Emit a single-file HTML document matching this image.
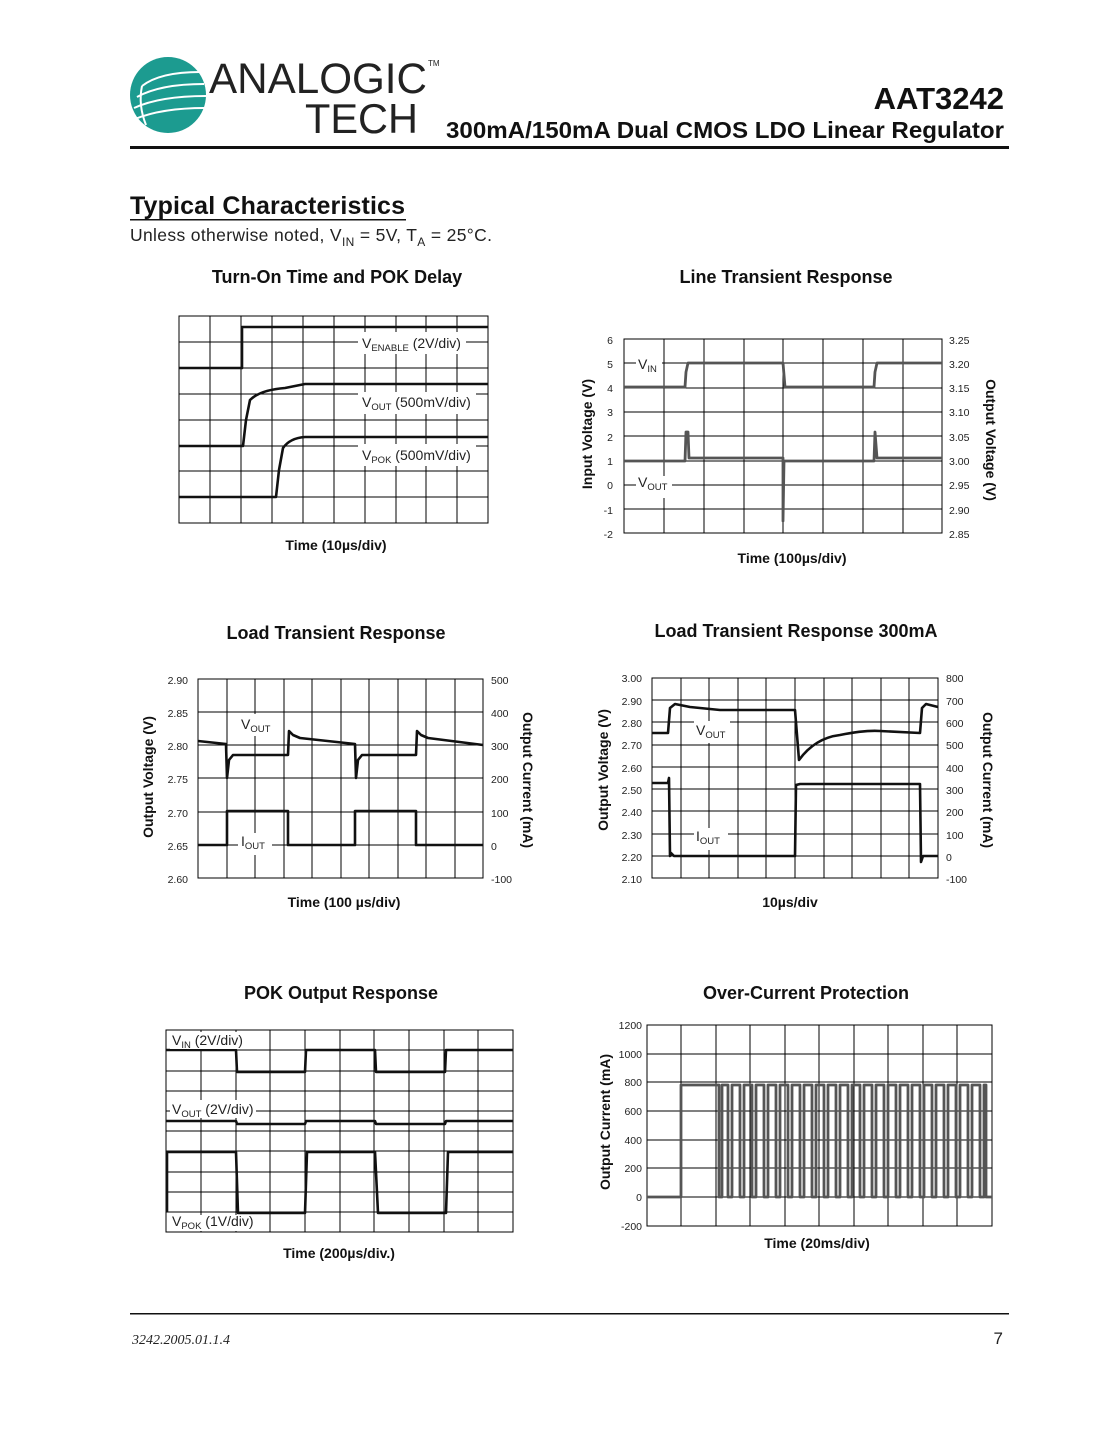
<!DOCTYPE html>
<html><head><meta charset="utf-8"><style>
html,body{margin:0;padding:0;background:#fff;}
svg{display:block;font-family:"Liberation Sans",Arial,sans-serif;}
.g{stroke:#000;stroke-width:1;fill:none;}
.t{fill:none;stroke:#111;stroke-width:2.6;stroke-linejoin:round;}
.tg{fill:none;stroke:#555;stroke-width:2.8;stroke-linejoin:round;}
.tk{font-size:10.5px;fill:#222;}
.ti{font-size:18px;font-weight:bold;fill:#111;}
.ax{font-size:14px;font-weight:bold;fill:#111;}
.lb{font-size:14px;fill:#222;}
.sb{font-size:9.5px;}
</style></head><body>
<svg width="1105" height="1430" viewBox="0 0 1105 1430" xmlns="http://www.w3.org/2000/svg">
<!-- logo -->
<circle cx="168" cy="95" r="38" fill="#1c9b90"/>
<g stroke="#fff" stroke-width="2" fill="none">
<path d="M142 86 Q160 72 200 72"/><path d="M137 97 Q160 84 204 84"/><path d="M134 108 Q160 96 206 96"/><path d="M135 119 Q162 108 205 108"/>
<path d="M142 86 Q138 105 146 125"/>
</g>
<text x="209" y="93" font-size="43" fill="#222" textLength="218" lengthAdjust="spacingAndGlyphs">ANALOGIC</text>
<text x="428" y="66" font-size="8" fill="#222">TM</text>
<text x="305" y="133" font-size="42" fill="#222" textLength="113" lengthAdjust="spacingAndGlyphs">TECH</text>
<text x="1004" y="109" font-size="31" font-weight="bold" fill="#111" text-anchor="end">AAT3242</text>
<text x="446" y="138" font-size="23" font-weight="bold" fill="#111" textLength="558" lengthAdjust="spacingAndGlyphs">300mA/150mA Dual CMOS LDO Linear Regulator</text>
<rect x="130" y="146" width="879" height="3" fill="#111"/>
<text x="130" y="214" font-size="25" font-weight="bold" fill="#111" textLength="275">Typical Characteristics</text>
<rect x="130" y="219" width="276" height="1.5" fill="#111"/>
<text x="130" y="241" font-size="17.5" fill="#222" textLength="362">Unless otherwise noted, V<tspan font-size="12" dy="5">IN</tspan><tspan dy="-5"> = 5V, T</tspan><tspan font-size="12" dy="5">A</tspan><tspan dy="-5"> = 25°C.</tspan></text>

<!-- Chart 1 -->
<text class="ti" x="337" y="283" text-anchor="middle">Turn-On Time and POK Delay</text>
<g class="g">
<rect x="179" y="316" width="309" height="207"/>
<path d="M210 316V523M241 316V523M272 316V523M303 316V523M334 316V523M365 316V523M396 316V523M426 316V523M457 316V523"/>
<path d="M179 342H488M179 368H488M179 394H488M179 420H488M179 446H488M179 471H488M179 497H488"/>
</g>
<path class="t" d="M179 368H242V327H488"/>
<path class="t" d="M179 446H243L246 420L250 400Q260 390 285 388Q300 385 305 384H488"/>
<path class="t" d="M179 497H276L279 470L283 448Q290 438 305 437H488"/>
<rect x="358" y="332" width="108" height="22" fill="#fff"/>
<text class="lb" x="362" y="348">V<tspan class="sb" dy="3">ENABLE</tspan><tspan dy="-3"> (2V/div)</tspan></text>
<rect x="358" y="392" width="118" height="22" fill="#fff"/>
<text class="lb" x="362" y="407">V<tspan class="sb" dy="3">OUT</tspan><tspan dy="-3"> (500mV/div)</tspan></text>
<rect x="358" y="444" width="118" height="22" fill="#fff"/>
<text class="lb" x="362" y="460">V<tspan class="sb" dy="3">POK</tspan><tspan dy="-3"> (500mV/div)</tspan></text>
<text class="ax" x="336" y="550" text-anchor="middle">Time (10µs/div)</text>

<!-- Chart 2 -->
<text class="ti" x="786" y="283" text-anchor="middle">Line Transient Response</text>
<g class="g">
<rect x="624" y="339" width="318" height="194"/>
<path d="M664 339V533M704 339V533M744 339V533M783 339V533M823 339V533M863 339V533M903 339V533"/>
<path d="M624 363H942M624 388H942M624 412H942M624 436H942M624 461H942M624 485H942M624 509H942"/>
</g>
<g class="tk" text-anchor="end">
<text x="613" y="344">6</text><text x="613" y="368">5</text><text x="613" y="392">4</text><text x="613" y="416">3</text><text x="613" y="441">2</text><text x="613" y="465">1</text><text x="613" y="489">0</text><text x="613" y="514">-1</text><text x="613" y="538">-2</text>
</g>
<g class="tk">
<text x="949" y="344">3.25</text><text x="949" y="368">3.20</text><text x="949" y="392">3.15</text><text x="949" y="416">3.10</text><text x="949" y="441">3.05</text><text x="949" y="465">3.00</text><text x="949" y="489">2.95</text><text x="949" y="514">2.90</text><text x="949" y="538">2.85</text>
</g>
<text class="ax" transform="translate(592 434) rotate(-90)" text-anchor="middle">Input Voltage (V)</text>
<text class="ax" transform="translate(986 440) rotate(90)" text-anchor="middle">Output Voltage (V)</text>
<path class="tg" d="M624 387H685L686 372L688 363H783L785 387H874L875 372L877 363H942"/>
<path class="tg" d="M624 461H685L686 432H688L689 458H783L783 521L784 461H874L875 432L877 458H942"/>
<rect x="636" y="354" width="26" height="22" fill="#fff"/>
<text class="lb" x="638" y="369">V<tspan class="sb" dy="3">IN</tspan></text>
<rect x="636" y="476" width="36" height="22" fill="#fff"/>
<text class="lb" x="638" y="487">V<tspan class="sb" dy="3">OUT</tspan></text>
<text class="ax" x="792" y="563" text-anchor="middle">Time (100µs/div)</text>

<!-- Chart 3 -->
<text class="ti" x="336" y="639" text-anchor="middle">Load Transient Response</text>
<g class="g">
<rect x="198" y="679" width="285" height="199"/>
<path d="M227 679V878M255 679V878M284 679V878M312 679V878M341 679V878M369 679V878M398 679V878M426 679V878M455 679V878"/>
<path d="M198 712H483M198 745H483M198 778H483M198 812H483M198 845H483"/>
</g>
<g class="tk" text-anchor="end">
<text x="188" y="684">2.90</text><text x="188" y="717">2.85</text><text x="188" y="750">2.80</text><text x="188" y="783">2.75</text><text x="188" y="817">2.70</text><text x="188" y="850">2.65</text><text x="188" y="883">2.60</text>
</g>
<g class="tk">
<text x="491" y="684">500</text><text x="491" y="717">400</text><text x="491" y="750">300</text><text x="491" y="783">200</text><text x="491" y="817">100</text><text x="491" y="850">0</text><text x="491" y="883">-100</text>
</g>
<text class="ax" transform="translate(153 777) rotate(-90)" text-anchor="middle">Output Voltage (V)</text>
<text class="ax" transform="translate(523 780) rotate(90)" text-anchor="middle">Output Current (mA)</text>
<path class="t" d="M198 741L226 744L227 778L229 760L233 755H288L289 731L293 735L300 738L355 744L356 778L358 760L362 755H416L417 731L421 735L428 738L483 745"/>
<path class="t" d="M198 845H227V811H288V845H355V811H416V845H483"/>
<rect x="238" y="714" width="36" height="22" fill="#fff"/>
<text class="lb" x="241" y="729">V<tspan class="sb" dy="3">OUT</tspan></text>
<rect x="238" y="833" width="34" height="22" fill="#fff"/>
<text class="lb" x="241" y="846">I<tspan class="sb" dy="3">OUT</tspan></text>
<text class="ax" x="344" y="907" text-anchor="middle">Time (100 µs/div)</text>

<!-- Chart 4 -->
<text class="ti" x="796" y="637" text-anchor="middle">Load Transient Response 300mA</text>
<g class="g">
<rect x="652" y="678" width="286" height="200"/>
<path d="M681 678V878M709 678V878M738 678V878M766 678V878M795 678V878M824 678V878M852 678V878M881 678V878M909 678V878"/>
<path d="M652 700H938M652 722H938M652 745H938M652 767H938M652 789H938M652 811H938M652 834H938M652 856H938"/>
</g>
<g class="tk" text-anchor="end">
<text x="642" y="682">3.00</text><text x="642" y="705">2.90</text><text x="642" y="727">2.80</text><text x="642" y="749">2.70</text><text x="642" y="772">2.60</text><text x="642" y="794">2.50</text><text x="642" y="816">2.40</text><text x="642" y="839">2.30</text><text x="642" y="861">2.20</text><text x="642" y="883">2.10</text>
</g>
<g class="tk">
<text x="946" y="682">800</text><text x="946" y="705">700</text><text x="946" y="727">600</text><text x="946" y="749">500</text><text x="946" y="772">400</text><text x="946" y="794">300</text><text x="946" y="816">200</text><text x="946" y="839">100</text><text x="946" y="861">0</text><text x="946" y="883">-100</text>
</g>
<text class="ax" transform="translate(608 770) rotate(-90)" text-anchor="middle">Output Voltage (V)</text>
<text class="ax" transform="translate(983 780) rotate(90)" text-anchor="middle">Output Current (mA)</text>
<path class="t" d="M652 733H668L670 708L675 704L690 707L720 710H795L797 735L799 760Q815 738 840 735Q865 730 880 731L920 733L922 708L926 704L938 707"/>
<path class="t" d="M652 783H668L669 778L670 856L671 853L674 856H795L796 785L800 784H920L921 862L923 856H938"/>
<rect x="694" y="721" width="36" height="22" fill="#fff"/>
<text class="lb" x="696" y="735">V<tspan class="sb" dy="3">OUT</tspan></text>
<rect x="694" y="828" width="34" height="22" fill="#fff"/>
<text class="lb" x="696" y="841">I<tspan class="sb" dy="3">OUT</tspan></text>
<text class="ax" x="790" y="907" text-anchor="middle">10µs/div</text>

<!-- Chart 5 -->
<text class="ti" x="341" y="999" text-anchor="middle">POK Output Response</text>
<g class="g">
<rect x="166" y="1030" width="347" height="202"/>
<path d="M201 1030V1232M236 1030V1232M270 1030V1232M305 1030V1232M340 1030V1232M374 1030V1232M409 1030V1232M444 1030V1232M478 1030V1232"/>
<path d="M166 1050H513M166 1071H513M166 1091H513M166 1111H513M166 1131H513M166 1151H513M166 1172H513M166 1192H513M166 1212H513"/>
</g>
<path class="t" d="M166 1050H236L237 1072H305L306 1050H375L376 1072H445L446 1050H513"/>
<path class="t" d="M166 1121H236L237 1124H305L306 1121H375L376 1124H445L446 1121H513"/>
<path class="t" d="M167 1212V1152H236L238 1213H305L307 1152H375L378 1213H446L448 1152H513"/>
<rect x="170" y="1032" width="78" height="17" fill="#fff"/>
<text class="lb" x="172" y="1045">V<tspan class="sb" dy="3">IN</tspan><tspan dy="-3"> (2V/div)</tspan></text>
<rect x="170" y="1100" width="86" height="18" fill="#fff"/>
<text class="lb" x="172" y="1114">V<tspan class="sb" dy="3">OUT</tspan><tspan dy="-3"> (2V/div)</tspan></text>
<rect x="170" y="1215" width="88" height="16" fill="#fff"/>
<text class="lb" x="172" y="1226">V<tspan class="sb" dy="3">POK</tspan><tspan dy="-3"> (1V/div)</tspan></text>
<text class="ax" x="339" y="1258" text-anchor="middle">Time (200µs/div.)</text>

<!-- Chart 6 -->
<text class="ti" x="806" y="999" text-anchor="middle">Over-Current Protection</text>
<g class="g">
<rect x="647" y="1025" width="345" height="201"/>
<path d="M681 1025V1226M716 1025V1226M750 1025V1226M785 1025V1226M819 1025V1226M854 1025V1226M888 1025V1226M923 1025V1226M957 1025V1226"/>
<path d="M647 1054H992M647 1082H992M647 1111H992M647 1140H992M647 1168H992M647 1197H992"/>
</g>
<g class="tk" text-anchor="end">
<text x="642" y="1029">1200</text><text x="642" y="1058">1000</text><text x="642" y="1086">800</text><text x="642" y="1115">600</text><text x="642" y="1144">400</text><text x="642" y="1172">200</text><text x="642" y="1201">0</text><text x="642" y="1230">-200</text>
</g>
<text class="ax" transform="translate(610 1122) rotate(-90)" text-anchor="middle">Output Current (mA)</text>
<path class="tg" d="M647 1197H681V1085H719V1197H722V1085H728V1197H732V1085H740V1197H744V1085H752V1197H756V1085H764V1197H768V1085H776V1197H780V1085H788V1197H792V1085H800V1197H804V1085H812V1197H816V1085H824V1197H828V1085H836V1197H840V1085H848V1197H852V1085H860V1197H864V1085H872V1197H876V1085H884V1197H888V1085H896V1197H900V1085H908V1197H912V1085H920V1197H924V1085H932V1197H936V1085H944V1197H948V1085H956V1197H960V1085H968V1197H972V1085H980V1197H984V1085H986V1197H992"/>
<text class="ax" x="817" y="1248" text-anchor="middle">Time (20ms/div)</text>

<!-- footer -->
<rect x="130" y="1313" width="879" height="1.5" fill="#111"/>
<text x="132" y="1344" font-family="Liberation Serif, serif" font-style="italic" font-size="14" fill="#222">3242.2005.01.1.4</text>
<text x="1003" y="1344" font-size="17" fill="#222" text-anchor="end">7</text>
</svg>
</body></html>
